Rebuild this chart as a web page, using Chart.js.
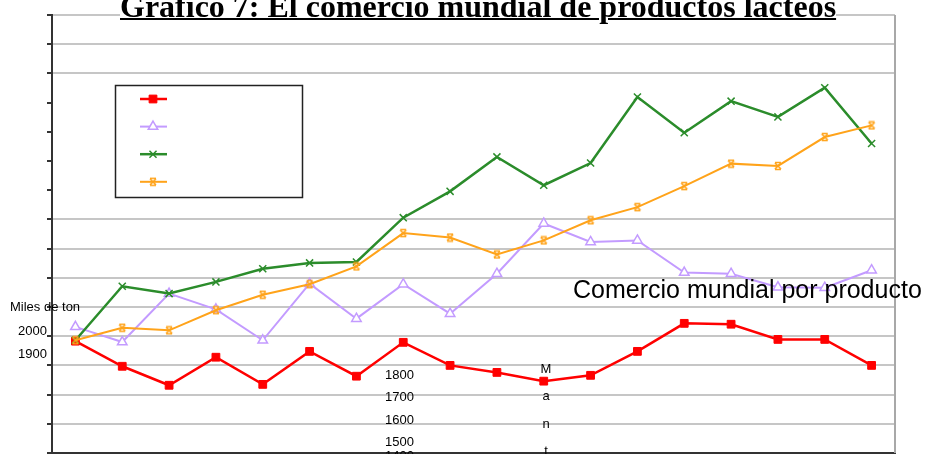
<!DOCTYPE html>
<html lang="es">
<head>
<meta charset="utf-8">
<title>Gráfico 7: El comercio mundial de productos lácteos</title>
<script src="https://cdn.jsdelivr.net/npm/chart.js@4/dist/chart.umd.min.js"></script>
<style>
  html, body { margin: 0; padding: 0; background: #fff; overflow: hidden; }
  #wrap { position: relative; width: 927px; height: 454px; overflow: hidden; }
  #chart { position: absolute; left: 0; top: 0; }
  .lbl { position: absolute; font-family: "Liberation Sans", Arial, sans-serif; font-size: 13px; line-height: normal; color: #000; white-space: nowrap; }
  #title { position: absolute; left: 120px; top: -12px; font-family: "Liberation Serif", "Times New Roman", serif; font-weight: bold; font-size: 32px; line-height: normal; text-decoration: underline; text-decoration-thickness: 2px; white-space: nowrap; background: #fff; }
  #big { font-size: 25px; }
</style>
</head>
<body>
<div id="wrap">
  <canvas id="chart" width="927" height="470"></canvas>
  <div id="title">Gráfico 7: El comercio mundial de productos lácteos</div>
  <div class="lbl" style="left:10px; top:299px;">Miles de ton</div>
  <div class="lbl" style="left:18px; top:323px;">2000</div>
  <div class="lbl" style="left:18px; top:346px;">1900</div>
  <div class="lbl" style="left:385px; top:367px;">1800</div>
  <div class="lbl" style="left:385px; top:389px;">1700</div>
  <div class="lbl" style="left:385px; top:412px;">1600</div>
  <div class="lbl" style="left:385px; top:434px;">1500</div>
  <div class="lbl" style="left:385px; top:448px;">1400</div>
  <div class="lbl" style="left:540px; top:361px; width:12px; text-align:center;">M</div>
  <div class="lbl" style="left:540px; top:388px; width:12px; text-align:center;">a</div>
  <div class="lbl" style="left:540px; top:416px; width:12px; text-align:center;">n</div>
  <div class="lbl" style="left:540px; top:443px; width:12px; text-align:center;">t</div>
  <div class="lbl" id="big" style="left:573px; top:275px;">Comercio mundial por producto</div>
</div>
<script>
// categories (no labels are shown on the axis)
const periods = ['1', '2', '3', '4', '5', '6', '7', '8', '9', '10', '11', '12', '13', '14', '15', '16', '17', '18'];

// thousand tonnes
const redSeries = [1983, 1897, 1832, 1928, 1835, 1948, 1863, 1979, 1900, 1876, 1846, 1866, 1948, 2044, 2041, 1989, 1989, 1900];
const purpleSeries = [2032, 1980, 2146, 2092, 1986, 2180, 2060, 2178, 2077, 2214, 2386, 2323, 2328, 2218, 2214, 2168, 2166, 2226];
const greenSeries = [1986, 2171, 2146, 2186, 2231, 2251, 2254, 2406, 2496, 2614, 2517, 2593, 2819, 2697, 2805, 2751, 2851, 2660];
const orangeSeries = [1986, 2029, 2020, 2089, 2142, 2178, 2239, 2353, 2338, 2280, 2328, 2397, 2442, 2514, 2591, 2583, 2682, 2722];

const yMin = 1600;
const yMax = 3100;
const yStep = 100;
// no grid line is drawn at these values in the picture
const hiddenGrid = [2500, 2600, 2700, 2800];

// x with bars top and bottom, like the orange marker
function barredCross(color) {
  const c = document.createElement('canvas');
  c.width = 10; c.height = 10;
  const g = c.getContext('2d');
  g.strokeStyle = color;
  g.lineWidth = 1.6;
  g.beginPath();
  g.moveTo(2, 2); g.lineTo(8, 8);
  g.moveTo(8, 2); g.lineTo(2, 8);
  g.moveTo(2, 1.5); g.lineTo(8, 1.5);
  g.moveTo(2, 8.5); g.lineTo(8, 8.5);
  g.stroke();
  return c;
}

const isHidden = c => {
  const t = c.tick || (c.chart.scales.y.ticks || [])[c.index];
  return t ? hiddenGrid.includes(Math.round(t.value)) : false;
};

const rightEdge = {
  id: 'rightEdge',
  afterDraw(chart) {
    const { ctx, chartArea: a } = chart;
    ctx.save();
    ctx.strokeStyle = '#a8a8a8';
    ctx.lineWidth = 2;
    ctx.beginPath();
    ctx.moveTo(a.right, a.top);
    ctx.lineTo(a.right, a.bottom);
    ctx.stroke();
    ctx.restore();
  }
};

const boxLegend = {
  id: 'boxLegend',
  afterDraw(chart) {
    const ctx = chart.ctx;
    ctx.save();
    ctx.strokeStyle = '#222';
    ctx.lineWidth = 1.5;
    ctx.strokeRect(115.5, 85.5, 187, 112);
    chart.data.datasets.forEach((ds, i) => {
      const y = 99 + i * 27.6;
      ctx.strokeStyle = ds.borderColor;
      ctx.fillStyle = ds.pointBackgroundColor;
      ctx.lineWidth = ds.borderWidth;
      ctx.beginPath();
      ctx.moveTo(140, y);
      ctx.lineTo(167, y);
      ctx.stroke();
      ctx.lineWidth = ds.pointBorderWidth;
      Chart.helpers.drawPoint(ctx, { pointStyle: ds.pointStyle, radius: ds.pointRadius, borderWidth: ds.pointBorderWidth, rotation: 0 }, 153, y);
    });
    ctx.restore();
  }
};

new Chart(document.getElementById('chart'), {
  type: 'line',
  data: {
    labels: periods,
    datasets: [
      { label: 'Serie 1', data: redSeries, borderColor: '#ff0000', borderWidth: 2.5, pointStyle: 'rect', pointRadius: 5.5,
        pointBackgroundColor: '#ff0000', pointBorderColor: '#ff0000', pointBorderWidth: 1, order: 3 },
      { label: 'Serie 2', data: purpleSeries, borderColor: '#c39bff', borderWidth: 2, pointStyle: 'triangle', pointRadius: 5.5,
        pointBackgroundColor: '#ffffff', pointBorderColor: '#c39bff', pointBorderWidth: 1.5, order: 2 },
      { label: 'Serie 3', data: greenSeries, borderColor: '#2b8c2b', borderWidth: 2.5, pointStyle: 'crossRot', pointRadius: 5,
        pointBackgroundColor: '#2b8c2b', pointBorderColor: '#2b8c2b', pointBorderWidth: 1.5, order: 1 },
      { label: 'Serie 4', data: orangeSeries, borderColor: '#ffa31a', borderWidth: 2, pointStyle: barredCross('#ffa31a'), pointRadius: 5,
        pointBackgroundColor: '#ffa31a', pointBorderColor: '#ffa31a', pointBorderWidth: 1.5, order: 0 },
    ],
  },
  options: {
    responsive: false,
    animation: false,
    layout: { padding: { left: 47, right: 32, top: 15, bottom: 9 } },
    plugins: { legend: { display: false }, tooltip: { enabled: false }, title: { display: false } },
    elements: { line: { tension: 0 } },
    scales: {
      x: {
        offset: true,
        ticks: { display: false },
        grid: { offset: true, drawOnChartArea: false, drawTicks: true, tickLength: 8, tickColor: '#333', tickWidth: 2 },
        border: { color: '#333', width: 2 },
      },
      y: {
        min: yMin,
        max: yMax,
        ticks: { display: false, stepSize: yStep },
        grid: {
          color: c => (isHidden(c) ? 'transparent' : '#c6c6c6'),
          lineWidth: c => (isHidden(c) ? 0 : 2),
          drawTicks: true,
          tickLength: 5,
          tickColor: '#333',
          tickWidth: 2,
        },
        border: { color: '#333', width: 2 },
      },
    },
  },
  plugins: [rightEdge, boxLegend],
});
</script>
</body>
</html>
